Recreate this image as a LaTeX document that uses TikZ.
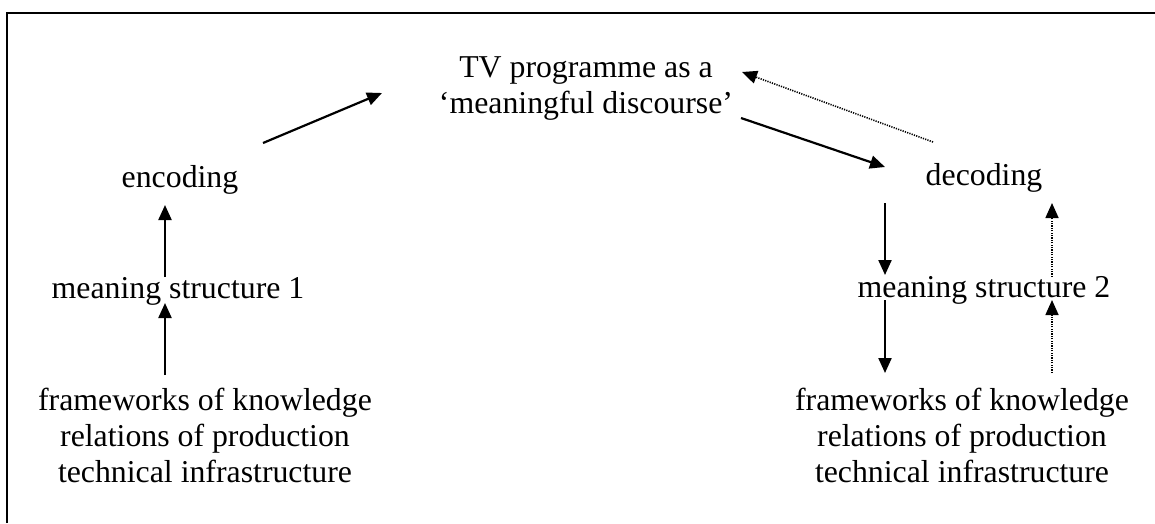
\documentclass[tikz,border=0pt]{standalone}
\usepackage{fontspec}
\setmainfont{Liberation Serif}
\usetikzlibrary{arrows.meta,calc}
\begin{document}
\begin{tikzpicture}[x=1pt,y=-1pt,
  lbl/.style={font=\fontsize{31.8}{36}\selectfont, inner sep=0pt, outer sep=0pt, anchor=base},
  one/.style={lbl, text height=22pt, text depth=7pt},
  multi/.style={lbl, align=center},
  solidarr/.style={line width=2.2pt, -{Triangle[length=15pt,width=13pt]}},
  dotarr/.style={line width=1.6pt, dash pattern=on 1.2pt off 1.2pt, -{Triangle[length=15pt,width=13pt]}},
  frameline/.style={line width=1.8pt}]
\useasboundingbox (0,0) rectangle (1155,523);
\draw[frameline] (7,523) -- (7,13) -- (1155,13);

% multi-line nodes: base anchor = baseline of the last line
\node[multi] (tv) at (586,113) {TV programme as a\\‘meaningful discourse’};
\node[one] (enc) at (180,187) {encoding};
\node[one] (ms1) at (178,298) {meaning structure 1};
\node[multi] (fw1) at (205,482) {frameworks of knowledge\\relations of production\\technical infrastructure};
\node[one] (dec) at (984,185) {decoding};
\node[one] (ms2) at (984,297) {meaning structure 2};
\node[multi] (fw2) at (962,482) {frameworks of knowledge\\relations of production\\technical infrastructure};

% left column
\draw[solidarr] ($(fw1.base)+(-40,-107)$) -- ($(ms1.base)+(-13,5)$);
\draw[solidarr] ($(ms1.base)+(-13,-21)$) -- ($(enc.base)+(-15,18)$);
% right column
\draw[solidarr] ($(dec.base)+(-99,18)$) -- ($(ms2.base)+(-99,-22)$);
\draw[solidarr] ($(ms2.base)+(-99,3)$) -- ($(fw2.base)+(-77,-109)$);
\draw[dotarr] ($(fw2.base)+(90,-109)$) -- ($(ms2.base)+(68,3)$);
\draw[dotarr] ($(ms2.base)+(68,-20)$) -- ($(dec.base)+(68,18)$);
% diagonals
\draw[solidarr] ($(enc.base)+(83,-44)$) -- ($(tv.base)+(-204,-20)$);
\draw[solidarr] ($(tv.base)+(155,5)$) -- ($(dec.base)+(-99,-18)$);
\draw[dotarr] ($(dec.base)+(-51,-43)$) -- ($(tv.base)+(156,-41)$);
\end{tikzpicture}
\end{document}
